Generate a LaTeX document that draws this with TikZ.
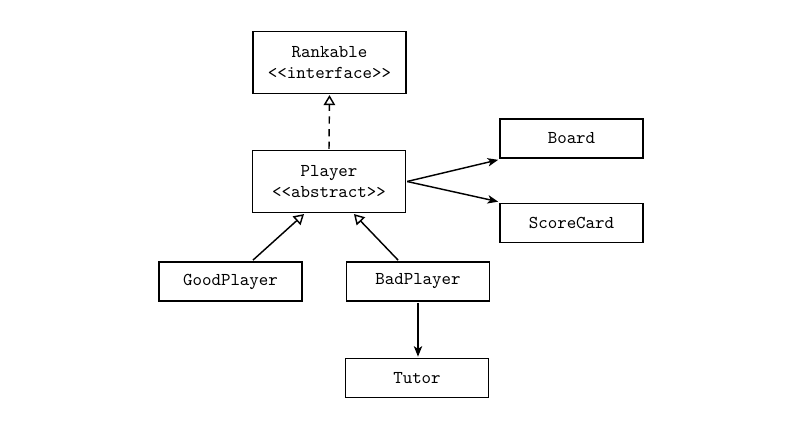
\documentclass[tikz,border=0pt]{standalone}
\usepackage{fontspec}
\usetikzlibrary{arrows.meta}
\begin{document}
\begin{tikzpicture}[x=0.553pt,y=-0.553pt,
  cls/.style={draw, line width=0.8pt, inner sep=0pt, outer sep=1pt, minimum width=79.1pt, minimum height=21.6pt, font=\ttfamily, align=center},
  bigcls/.style={cls, minimum width=84.4pt, minimum height=34pt},
  conn/.style={line width=0.8pt},
  assoc/.style={conn, -{Stealth[length=5.8pt,width=4.6pt,inset=1.5pt]}},
  inherit/.style={conn, -{Triangle[open,length=5.6pt,width=6.4pt]}},
  realize/.style={inherit, dash pattern=on 4pt off 3pt}]
\useasboundingbox (0,0) rectangle (805,422);
\node[bigcls] (rankable) at (329.5,62.5) {Rankable\\<<interface>>};
\node[bigcls] (player) at (329,181.5) {Player\\<<abstract>>};
\node[cls] (board) at (571.5,138.5) {Board};
\node[cls] (scorecard) at (571.5,223) {ScoreCard};
\node[cls] (goodplayer) at (230.5,281.5) {GoodPlayer};
\node[cls] (badplayer) at (418,281.5) {BadPlayer};
\node[cls] (tutor) at (417,378) {Tutor};
\draw[realize] (player.north) -- (rankable.south);
\draw[assoc] (player.east) -- (board.south west);
\draw[assoc] (player.east) -- (scorecard.north west);
\draw[inherit] ([xshift=12.4pt]goodplayer.north) -- ([xshift=-13.8pt]player.south);
\draw[inherit] ([xshift=-11pt]badplayer.north) -- ([xshift=13.8pt]player.south);
\draw[assoc] (badplayer.south) -- (tutor.north -| badplayer.south);
\end{tikzpicture}
\end{document}
